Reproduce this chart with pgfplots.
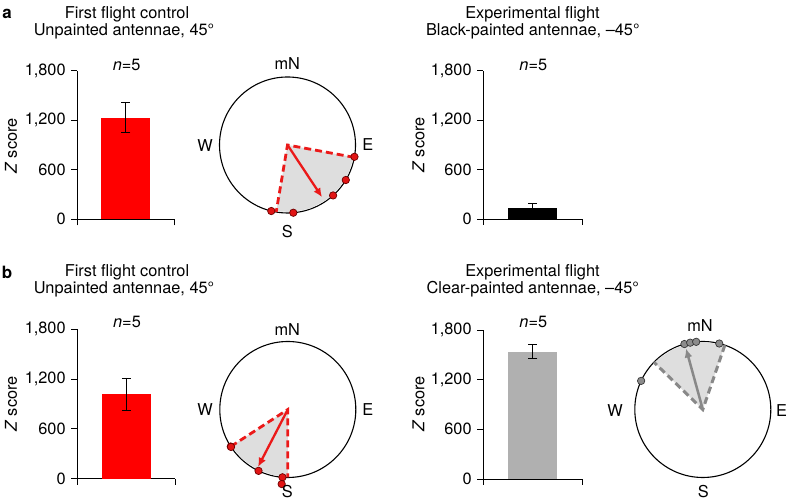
\documentclass[border=0pt]{standalone}
\usepackage{fontspec}
\setmainfont{TeX Gyre Heros}
\usepackage{pgfplots}
\pgfplotsset{compat=1.18}
\usepgfplotslibrary{polar}
\usetikzlibrary{arrows.meta}
\definecolor{barred}{RGB}{255,0,0}
\definecolor{bargray}{RGB}{176,176,176}
\definecolor{shade}{RGB}{222,222,222}
\definecolor{dotred}{RGB}{225,20,20}
\definecolor{dotredline}{RGB}{110,0,0}
\definecolor{arrowred}{RGB}{235,25,25}
\definecolor{midgray}{RGB}{136,136,136}
\definecolor{dotgray}{RGB}{140,140,140}
\definecolor{dotgrayline}{RGB}{55,55,55}
\pgfplotsset{
  barax/.style={anchor=origin, scale only axis, xmin=0, xmax=1, ymin=0, ymax=1800,
    enlargelimits=false, axis lines*=left, xtick={0,1}, xticklabels={,},
    ytick={0,600,1200,1800}, tick align=outside, major tick length=6bp,
    axis line style={black, line width=0.8bp}, tick style={black, line width=0.8bp},
    /pgf/number format/assume math mode=true, clip=false,
    yticklabel style={font=\fontsize{16.4}{19}\selectfont}},
  errs/.style={error bars/.cd, y dir=both, y explicit,
    error bar style={black, line width=0.8bp},
    error mark options={rotate=90, black, mark size=4.5bp, line width=0.8bp}},
  compass/.style={anchor=origin, scale only axis, width=136bp, height=136bp,
    xtick=\empty, ytick=\empty, ymin=0, ymax=1, clip=false,
    axis line style={black, line width=1.1bp},
    y axis line style={draw=none}},
  reddots/.style={only marks, mark=*, mark size=3.7bp,
    mark options={fill=dotred, draw=dotredline, line width=0.7bp}},
  graydots/.style={only marks, mark=*, mark size=3.7bp,
    mark options={fill=dotgray, draw=dotgrayline, line width=0.7bp}},
}
\begin{document}
\fontsize{16.4}{19}\selectfont
\begin{tikzpicture}[x=1bp, y=1bp, font=\fontsize{16.4}{19}\selectfont]
\useasboundingbox (0,0) rectangle (788,500);

% ---------- panel a, left bar ----------
\begin{axis}[barax, at={(77.3bp,280.7bp)}, width=97bp, height=148.6bp]
\addplot[ybar, bar width=49bp, fill=barred, draw=none, errs] coordinates {(0.5,1231) +- (0,182)};
\end{axis}
% ---------- panel a, compass ----------
\begin{polaraxis}[compass, at={(287.5bp,355bp)}]
\addplot[draw=none, fill=shade] coordinates {(0,0) (260.4,0.99) (275,0.99) (290,0.99) (305,0.99) (320,0.99) (335,0.99) (349.5,0.99) (0,0)};
\addplot[arrowred, line width=2.8bp, dash pattern=on 7bp off 4bp, miter limit=10] coordinates {(349.5,1) (0,0) (260.4,1)};
\addplot[arrowred, line width=2.3bp, -{Latex[length=9bp,width=8bp]}] coordinates {(0,0) (303.5,0.92)};
\addplot[reddots] coordinates {(256.2,1) (274.9,1) (312.1,1) (329,1) (350,1)};
\end{polaraxis}
% ---------- panel a, right bar ----------
\begin{axis}[barax, at={(483.3bp,281bp)}, width=99bp, height=148.3bp]
\addplot[ybar, bar width=49bp, fill=black, draw=none, errs] coordinates {(0.5,134) +- (0,52)};
\end{axis}

% ---------- panel b, left bar ----------
\begin{axis}[barax, at={(77.3bp,21.3bp)}, width=98bp, height=149.4bp]
\addplot[ybar, bar width=49bp, fill=barred, draw=none, errs] coordinates {(0.5,1017) +- (0,197)};
\end{axis}
% ---------- panel b, left compass ----------
\begin{polaraxis}[compass, at={(287.8bp,90.5bp)}]
\addplot[draw=none, fill=shade] coordinates {(0,0) (213,0.99) (228,0.99) (243,0.99) (258,0.99) (270,0.99) (0,0)};
\addplot[arrowred, line width=2.8bp, dash pattern=on 7bp off 4bp, miter limit=10] coordinates {(213,1) (0,0) (270,1)};
\addplot[arrowred, line width=2.3bp, -{Latex[length=9bp,width=8bp]}] coordinates {(0,0) (242.6,0.95)};
\addplot[reddots] coordinates {(213,1) (213.4,1) (244.5,1) (265.5,1) (265.3,1.1)};
\end{polaraxis}
% ---------- panel b, right bar ----------
\begin{axis}[barax, at={(483.3bp,21bp)}, width=99bp, height=149bp]
\addplot[ybar, bar width=49bp, fill=bargray, draw=none, errs] coordinates {(0.5,1540) +- (0,86)};
\end{axis}
% ---------- panel b, right compass ----------
\begin{polaraxis}[compass, at={(702.8bp,90.5bp)}]
\addplot[draw=none, fill=shade] coordinates {(0,0) (71.1,0.99) (85,0.99) (100,0.99) (115,0.99) (130,0.99) (136,0.99) (0,0)};
\addplot[midgray, line width=3bp, dash pattern=on 7bp off 4bp, miter limit=10] coordinates {(71.1,1) (0,0) (136,1)};
\addplot[midgray, line width=2.5bp, -{Latex[length=9bp,width=8bp]}] coordinates {(0,0) (105.4,0.93)};
\addplot[graydots] coordinates {(155.1,1) (105.7,1) (100.7,1) (95.6,1) (76,1)};
\end{polaraxis}

% ---------- texts ----------
\node[font=\fontsize{17}{19}\selectfont\bfseries] at (7,486) {a};
\node[font=\fontsize{17}{19}\selectfont\bfseries] at (7,228) {b};

\node at (127,486) {First flight control};
\node at (124,468.5) {Unpainted antennae, 45°};
\node at (532.5,486) {Experimental flight};
\node at (532.8,468.5) {Black-painted antennae, –45°};
\node at (127,228) {First flight control};
\node at (124,210.5) {Unpainted antennae, 45°};
\node at (532.5,228) {Experimental flight};
\node at (532.8,210.5) {Clear-painted antennae, –45°};

\node at (126.7,435) {\textit{n}=5};
\node at (533.3,435) {\textit{n}=5};
\node at (127,178.3) {\textit{n}=5};
\node at (533.3,178.3) {\textit{n}=5};

\node[rotate=90] at (11,354) {\textit{Z} score};
\node[rotate=90] at (418.5,355) {\textit{Z} score};
\node[rotate=90] at (11,96) {\textit{Z} score};
\node[rotate=90] at (418.5,96) {\textit{Z} score};

\node at (287.3,436.7) {mN};
\node at (205,354) {W};
\node at (367.7,355) {E};
\node at (287.3,268.3) {S};
\node at (287.3,170.7) {mN};
\node at (205,90) {W};
\node at (367.7,90) {E};
\node at (287.3,8.5) {S};
\node at (700,174) {mN};
\node at (615,89) {W};
\node at (781.5,89) {E};
\node at (703.3,8.5) {S};
\end{tikzpicture}
\end{document}
